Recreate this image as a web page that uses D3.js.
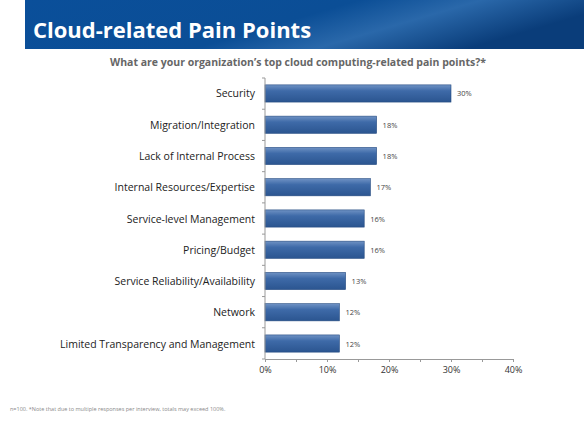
<!DOCTYPE html><html><head><meta charset="utf-8"><script src="https://d3js.org/d3.v7.min.js"></script>
<style>body{margin:0;background:#fff}</style></head><body><script>
const categories=["Security","Migration/Integration","Lack of Internal Process","Internal Resources/Expertise","Service-level Management","Pricing/Budget","Service Reliability/Availability","Network","Limited Transparency and Management"];
const values=[30,18,18,17,16,16,13,12,12];
const ticks=[0,10,20,30,40];
const W=584,H=433;
const svg=d3.select("body").append("svg").attr("width",W).attr("height",H).style("font-family","'Open Sans',Calibri,sans-serif");
const defs=svg.append("defs");
const hg=defs.append("linearGradient").attr("id","hg").attr("x1",0).attr("x2",1).attr("y1",0).attr("y2",0.3);
hg.append("stop").attr("offset",0).attr("stop-color","#0a4f9a");
hg.append("stop").attr("offset",0.55).attr("stop-color","#0b4e96");
hg.append("stop").attr("offset",0.75).attr("stop-color","#2a68aa");
hg.append("stop").attr("offset",1).attr("stop-color","#0a3d7a");
const bg=defs.append("linearGradient").attr("id","bg").attr("x1",0).attr("x2",0).attr("y1",0).attr("y2",1);
bg.append("stop").attr("offset",0).attr("stop-color","#6f92c4");
bg.append("stop").attr("offset",0.35).attr("stop-color","#3e6aa8");
bg.append("stop").attr("offset",1).attr("stop-color","#2b5590");
svg.append("rect").attr("x",25).attr("y",0).attr("width",W-25).attr("height",49).attr("fill","url(#hg)");
svg.append("text").attr("x",33).attr("y",38).attr("fill","#fff").attr("font-size",22).attr("font-weight","bold").text("Cloud-related Pain Points");
svg.append("text").attr("x",298).attr("y",66).attr("text-anchor","middle").attr("fill","#666").attr("font-size",10.5).attr("font-weight","bold").text("What are your organization’s top cloud computing-related pain points?*");
const x=d3.scaleLinear().domain([0,40]).range([265,513]);
const y=d3.scaleBand().domain(categories).range([78,359]).paddingInner(0.45).paddingOuter(0.22);
const g=svg.append("g");
g.selectAll("rect.b").data(categories).join("rect").attr("x",x(0)).attr("y",d=>y(d)).attr("width",(d,i)=>x(values[i])-x(0)).attr("height",y.bandwidth()).attr("fill","url(#bg)").attr("stroke","#244a80").attr("stroke-width",0.6);
g.selectAll("text.v").data(categories).join("text").attr("x",(d,i)=>x(values[i])+6).attr("y",d=>y(d)+y.bandwidth()/2+3).attr("font-size",7.5).attr("fill","#444").text((d,i)=>values[i]+"%");
g.selectAll("text.c").data(categories).join("text").attr("x",255).attr("y",d=>y(d)+y.bandwidth()/2+4).attr("text-anchor","end").attr("font-size",10.5).attr("fill","#222").text(d=>d);
// left axis
svg.append("line").attr("x1",265).attr("x2",265).attr("y1",78).attr("y2",359).attr("stroke","#999");
const step=(359-78)/categories.length;
for(let i=0;i<=categories.length;i++)svg.append("line").attr("x1",262).attr("x2",265).attr("y1",78+i*step).attr("y2",78+i*step).attr("stroke","#999");
const ax=svg.append("g").attr("transform","translate(0,359)").call(d3.axisBottom(x).tickValues(d3.range(0,41,5)).tickSize(3).tickFormat(d=>ticks.includes(d)?d+"%":""));
ax.select(".domain").attr("stroke","#999");ax.selectAll("line").attr("stroke","#999");
ax.selectAll("text").attr("font-size",9).attr("fill","#333").attr("font-family","'Open Sans',sans-serif").attr("dy","0.9em");
svg.append("text").attr("x",10).attr("y",411).attr("font-size",5.5).attr("fill","#888").text("n=100. *Note that due to multiple responses per interview, totals may exceed 100%.");
</script></body></html>
